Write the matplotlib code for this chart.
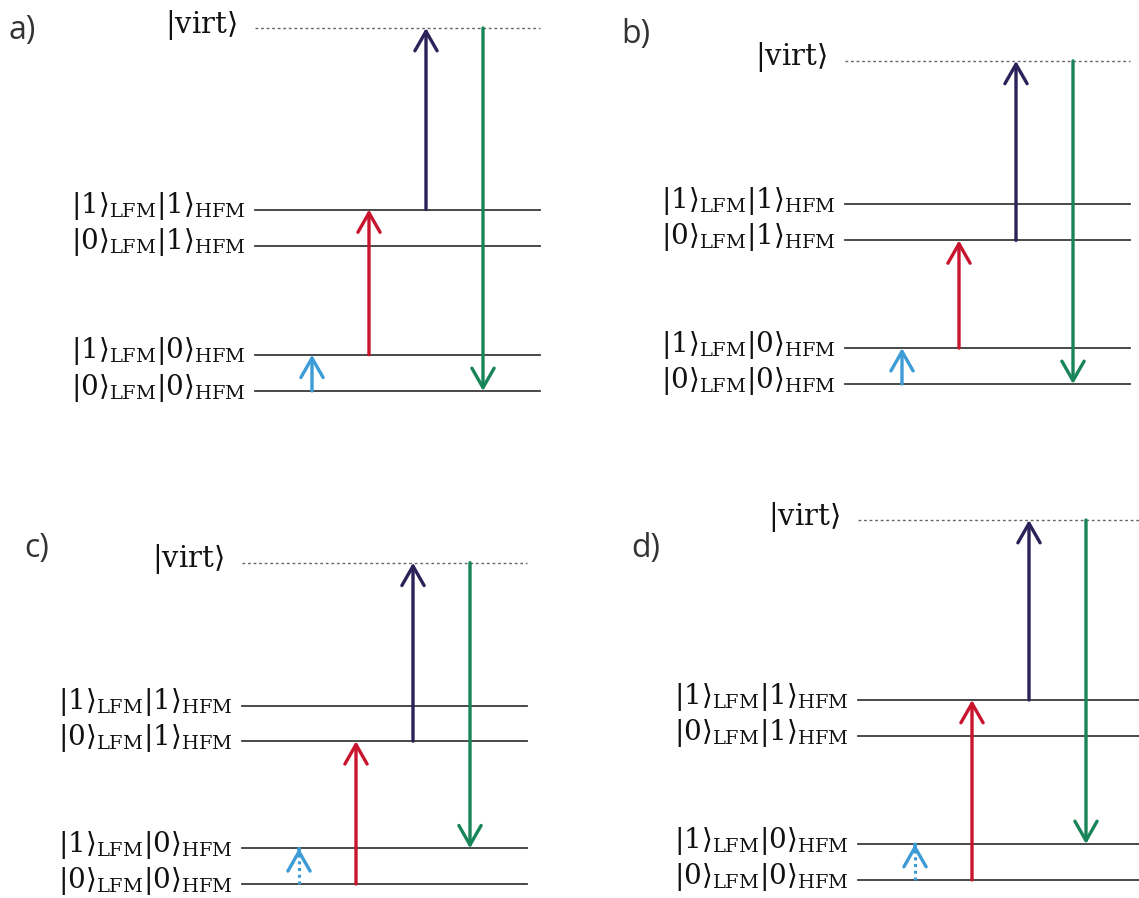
import matplotlib
matplotlib.use("Agg")
import matplotlib.pyplot as plt

plt.rcParams["mathtext.fontset"] = "dejavuserif"

# Level energies in units of the LFM quantum
level_labels = [
    r"$|0\rangle_{\mathrm{LFM}}|0\rangle_{\mathrm{HFM}}$",
    r"$|1\rangle_{\mathrm{LFM}}|0\rangle_{\mathrm{HFM}}$",
    r"$|0\rangle_{\mathrm{LFM}}|1\rangle_{\mathrm{HFM}}$",
    r"$|1\rangle_{\mathrm{LFM}}|1\rangle_{\mathrm{HFM}}$",
]
level_energies = [0.0, 1.0, 4.0, 5.0]
virt_label = r"$|\mathrm{virt}\rangle$"
virt_energies = {"a": 10.0, "b": 9.0, "c": 9.0, "d": 10.0}
panel_names = ["a", "b", "c", "d"]

# Transitions per panel: (start level index, end level index); "v" = virtual level
pump_lfm = {"a": (0, 1), "b": (0, 1), "c": (0, 1), "d": (0, 1)}      # blue
pump_hfm = {"a": (1, 3), "b": (1, 2), "c": (0, 2), "d": (0, 3)}      # red
probe = {"a": (3, "v"), "b": (2, "v"), "c": (2, "v"), "d": (3, "v")}  # purple
signal = {"a": ("v", 0), "b": ("v", 0), "c": ("v", 1), "d": ("v", 1)}  # green
dotted_lfm = {"a": False, "b": False, "c": True, "d": True}

colors = {"lfm": "#3d9bd6", "hfm": "#c8142c", "probe": "#2c2159", "signal": "#178558"}

W, H = 1139, 898
fig = plt.figure(figsize=(W / 100, H / 100), dpi=100)
fig.patch.set_facecolor("white")

# panel placement in pixels: left edge of level lines, y of ground level, px per energy unit
panel_origin = {"a": (255, 391, 36.3), "b": (845, 384, 35.9),
                "c": (242, 884, 35.7), "d": (858, 880, 36.0)}
px_per_unit_x = 57.0
letter_pos = {"a": (9, 30), "b": (621, 35), "c": (24, 548), "d": (631, 548)}

ARROW = "->,head_length=0.7,head_width=0.4"


def energy(p, idx):
    return virt_energies[p] if idx == "v" else level_energies[idx]


def arrow(ax, x, e0, e1, color, dotted=False):
    if dotted:
        ax.plot([x, x], [e0, e1], color=color, lw=2.2, ls=(0, (1, 1.2)),
                solid_capstyle="butt")
        ax.annotate("", xy=(x, e1), xytext=(x, e1 - 0.02),
                    arrowprops=dict(arrowstyle=ARROW, color=color, lw=2.4,
                                    shrinkA=0, shrinkB=0, mutation_scale=20))
    else:
        ax.annotate("", xy=(x, e1), xytext=(x, e0),
                    arrowprops=dict(arrowstyle=ARROW, color=color, lw=2.4,
                                    shrinkA=0, shrinkB=0, mutation_scale=20))


for p in panel_names:
    x0, y0, sy = panel_origin[p]
    vmax = virt_energies[p]
    ylo, yhi = -0.5, vmax + 0.5
    xlo, xhi = -0.5, 5.5
    left = (x0 + xlo * px_per_unit_x) / W
    width = (xhi - xlo) * px_per_unit_x / W
    bottom = 1 - (y0 - ylo * sy) / H
    height = (yhi - ylo) * sy / H
    ax = fig.add_axes([left, bottom, width, height])
    ax.set_xlim(xlo, xhi)
    ax.set_ylim(ylo, yhi)
    ax.axis("off")

    for lab, e in zip(level_labels, level_energies):
        ax.plot([0, 5], [e, e], color="#3a3a3a", lw=1.3, clip_on=False)
        ax.annotate(lab, xy=(0, e), xytext=(-7, 2.5), textcoords="offset points",
                    ha="right", va="center", fontsize=20, color="#111111")
    ax.plot([0, 5], [vmax, vmax], color="#666666", lw=1.0, ls=(0, (2, 2)),
            clip_on=False)
    ax.annotate(virt_label, xy=(0, vmax), xytext=(-13, 2.5), textcoords="offset points",
                ha="right", va="center", fontsize=21, color="#111111")

    s, e = pump_lfm[p]
    arrow(ax, 1, energy(p, s), energy(p, e), colors["lfm"], dotted=dotted_lfm[p])
    s, e = pump_hfm[p]
    arrow(ax, 2, energy(p, s), energy(p, e), colors["hfm"])
    s, e = probe[p]
    arrow(ax, 3, energy(p, s), energy(p, e), colors["probe"])
    s, e = signal[p]
    arrow(ax, 4, energy(p, s), energy(p, e), colors["signal"])

    lx, ly = letter_pos[p]
    fig.text(lx / W, 1 - ly / H, p + ")", ha="left", va="center",
             fontsize=23, family="Open Sans", color="#333333")

fig.savefig("out.png", dpi=100, facecolor="white")
